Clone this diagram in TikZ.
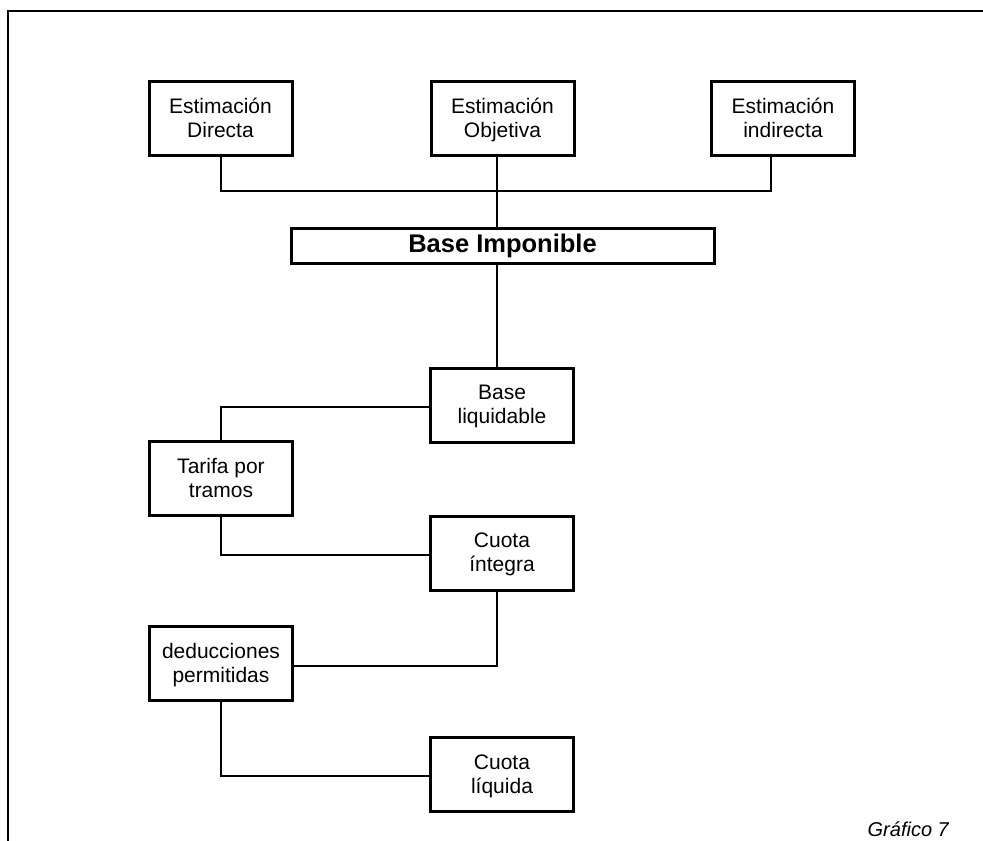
\documentclass[tikz,border=0pt]{standalone}
\usepackage{fontspec}
\setmainfont{Liberation Sans}
\usepackage{tikz}

% renglon de alto fijo para centrar el texto de las cajas
\newcommand{\renglon}{\rule[-5pt]{0pt}{23pt}}

\begin{document}
\begin{tikzpicture}[x=1pt, y=-1pt,
        caja/.style={draw, line width=3pt, align=center, inner sep=0pt,
            minimum width=143pt, minimum height=74pt,
            font=\fontsize{21}{24}\selectfont},
        conector/.style={line width=2pt}]
    \useasboundingbox (0,0) rectangle (983,841);

    % Marco
    \draw[line width=2pt] (8,845) -- (8,11) -- (987,11);

    % Estimaciones
    \node[caja] (directa) at (220.5,118.5) {\renglon Estimación\\\renglon Directa};
    \node[caja] (objetiva) at (502.5,118.5) {\renglon Estimación\\\renglon Objetiva};
    \node[caja] (indirecta) at (783,118.5) {\renglon Estimación\\\renglon indirecta};

    % Base imponible
    \node[caja, minimum width=423pt, minimum height=35pt, text height=17.5pt, text depth=3.5pt,
        font=\fontsize{25.5}{30}\selectfont\bfseries] (imponible) at (502.5,245.5) {Base Imponible};

    % Cadena de liquidacion
    \node[caja] (liquidable) at (502,405) {\renglon Base\\\renglon liquidable};
    \node[caja] (tarifa) at (221,478.5) {\renglon Tarifa por\\\renglon tramos};
    \node[caja] (integra) at (502,553) {\renglon Cuota\\\renglon íntegra};
    \node[caja] (deducciones) at (221,663.5) {\renglon deducciones\\\renglon permitidas};
    \node[caja] (liquida) at (502,774.5) {\renglon Cuota\\\renglon líquida};

    % Puntos de union
    \coordinate (union) at (497,191);

    % Conexiones
    \draw[conector] (directa.south) |- (union) -| ([xshift=-12pt]indirecta.south);
    \draw[conector] (objetiva.south -| union) -- (imponible.north -| union);
    \draw[conector] (imponible.south -| union) -- (liquidable.north -| union);
    \draw[conector] ([yshift=-2pt]liquidable.west) -| (tarifa.north);
    \draw[conector] (tarifa.south) |- ([yshift=-2pt]integra.west);
    \draw[conector] (integra.south -| union) |- ([yshift=-2pt]deducciones.east);
    \draw[conector] (deducciones.south) |- ([yshift=-1pt]liquida.west);

    % Pie
    \node[anchor=base east, inner sep=0pt, font=\fontsize{20}{24}\selectfont\itshape] (pie) at (949,836) {Gráfico 7};
\end{tikzpicture}
\end{document}
